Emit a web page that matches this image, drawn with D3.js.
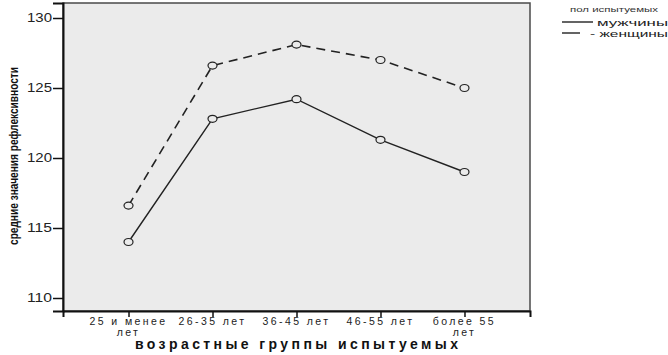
<!DOCTYPE html>
<html>
<head>
<meta charset="utf-8">
<script src="https://cdn.jsdelivr.net/npm/d3@7"></script>
<style>
body { margin: 0; background: #fff; }
text { font-family: "Liberation Sans", Arial, sans-serif; }
</style>
</head>
<body>
<script>
// age groups and mean values per gender
var groups = ["25 и менее|лет", "26-35 лет", "36-45 лет", "46-55 лет", "более 55|лет"];
var men = [114.0, 122.8, 124.2, 121.3, 119.0];
var women = [116.6, 126.6, 128.1, 127.0, 125.0];
var yTicks = [110, 115, 120, 125, 130];

var W = 668, H = 355;
var plot = {left: 63, right: 530, top: 3, bottom: 311};

var svg = d3.select("body")
	.append("svg")
	.attr("width", W)
	.attr("height", H);

var x = d3.scalePoint()
	.domain(groups)
	.range([plot.left, plot.right])
	.padding(0.78);

var y = d3.scaleLinear()
	.domain([130 - (plot.bottom - 18) / 14, 130 + 15 / 14])
	.range([plot.bottom, plot.top]);

// plot background
svg.append("rect")
	.attr("x", plot.left)
	.attr("y", plot.top)
	.attr("width", plot.right - plot.left)
	.attr("height", plot.bottom - plot.top)
	.style("fill", "#ebebeb")
	.style("stroke", "#4a4a4a")
	.style("stroke-width", 1.5);

// axes
var yAxis = svg.append("g")
	.attr("transform", "translate(" + plot.left + ",0)")
	.call(d3.axisLeft(y).tickValues(yTicks).tickSize(10).tickPadding(1));
var xAxis = svg.append("g")
	.attr("transform", "translate(0," + plot.bottom + ")")
	.call(d3.axisBottom(x).tickSize(6).tickFormat(""));

[yAxis, xAxis].forEach(function(a) {
	a.select(".domain").style("stroke", "#111").style("stroke-width", 2);
	a.selectAll(".tick line").style("stroke", "#111").style("stroke-width", 1.5);
});
yAxis.selectAll(".tick text")
	.style("font-size", "12px")
	.attr("textLength", 25)
	.attr("lengthAdjust", "spacingAndGlyphs")
	.style("fill", "#222");

// x tick labels, split on "|"
groups.forEach(function(g) {
	var parts = g.split("|");
	parts.forEach(function(p, i) {
		svg.append("text")
			.attr("x", x(g))
			.attr("y", 325 + i * 11)
			.attr("text-anchor", "middle")
			.style("font-size", "10.5px")
			.style("letter-spacing", "2.4px")
			.style("fill", "#222")
			.text(p);
	});
});

// titles
svg.append("text")
	.attr("x", 135)
	.attr("y", 349)
	.attr("textLength", 323)
	.attr("lengthAdjust", "spacing")
	.style("font-size", "14px")
	.style("font-weight", "bold")
	.style("fill", "#111")
	.text("возрастные группы испытуемых");

svg.append("text")
	.attr("transform", "translate(18,245) rotate(-90)")
	.attr("textLength", 178)
	.attr("lengthAdjust", "spacingAndGlyphs")
	.style("font-size", "13.5px")
	.style("font-weight", "bold")
	.style("fill", "#111")
	.text("средние значения рефлексивности");

// series lines
var line = d3.line()
	.x(function(d, i) { return x(groups[i]); })
	.y(function(d) { return y(d); });

svg.append("path")
	.datum(women)
	.attr("d", line)
	.style("fill", "none")
	.style("stroke", "#222")
	.style("stroke-width", 1.6)
	.style("stroke-dasharray", "9,6");

svg.append("path")
	.datum(men)
	.attr("d", line)
	.style("fill", "none")
	.style("stroke", "#222")
	.style("stroke-width", 1.4);

[men, women].forEach(function(s) {
	svg.selectAll(null)
		.data(s)
		.enter()
		.append("ellipse")
		.attr("cx", function(d, i) { return x(groups[i]); })
		.attr("cy", function(d) { return y(d); })
		.attr("rx", 4.5)
		.attr("ry", 3.5)
		.style("fill", "#ebebeb")
		.style("stroke", "#222")
		.style("stroke-width", 1.2);
});

// legend
svg.append("text")
	.attr("x", 570)
	.attr("y", 12)
	.attr("textLength", 88)
	.attr("lengthAdjust", "spacingAndGlyphs")
	.style("font-size", "7px")
	.style("fill", "#333")
	.text("пол испытуемых");

var legend = [
	{name: "мужчины", dash: null, y: 22, tx: 597, len: 71},
	{name: "- женщины", dash: "18,30", y: 33, tx: 590, len: 78}
];
legend.forEach(function(l) {
	svg.append("line")
		.attr("x1", 562)
		.attr("x2", 593)
		.attr("y1", l.y)
		.attr("y2", l.y)
		.style("stroke", "#222")
		.style("stroke-width", 1.4)
		.style("stroke-dasharray", l.dash);
	svg.append("text")
		.attr("x", l.tx)
		.attr("y", l.y + 4)
		.attr("textLength", l.len)
		.attr("lengthAdjust", "spacingAndGlyphs")
		.style("font-size", "9.5px")
		.style("fill", "#222")
		.text(l.name);
});
</script>
</body>
</html>
